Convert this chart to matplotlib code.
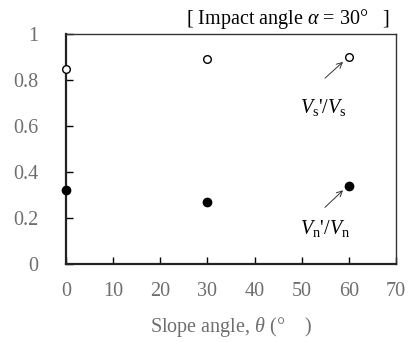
import matplotlib.pyplot as plt

plt.rcParams['font.family'] = 'Liberation Serif'
plt.rcParams['mathtext.fontset'] = 'custom'
plt.rcParams['mathtext.rm'] = 'Liberation Serif'
plt.rcParams['mathtext.it'] = 'Liberation Serif:italic'

slope = [0, 30, 60]
vs_ratio = [0.85, 0.89, 0.90]   # Vs'/Vs (open)
vn_ratio = [0.32, 0.27, 0.34]   # Vn'/Vn (filled)
xticks = [0, 10, 20, 30, 40, 50, 60, 70]
yticks = [0, 0.2, 0.4, 0.6, 0.8, 1]
ytick_labels = ['0', '0.2', '0.4', '0.6', '0.8', '1']

gray = '#6e6e6e'
fs = 14.5

fig = plt.figure(figsize=(4.15, 3.42), dpi=100)
ax = fig.add_axes([66/415, 1 - 264/342, 330/415, 230/342])

ax.plot(slope, vs_ratio, 'o', mfc='white', mec='black', ms=5.5, mew=1, clip_on=False, zorder=5)
ax.plot(slope, vn_ratio, 'o', mfc='black', mec='black', ms=6, clip_on=False, zorder=5)

ax.set_xlim(0, 70)
ax.set_ylim(0, 1)
ax.set_xticks(xticks)
ax.set_yticks(yticks)
ax.set_yticklabels(ytick_labels)
ax.tick_params(direction='in', length=5, width=1, labelsize=fs, colors='black', labelcolor=gray)
ax.tick_params(axis='y', pad=20)
ax.tick_params(axis='x', pad=13)
for s in ['left', 'bottom']:
    ax.spines[s].set_linewidth(1.6)
    ax.spines[s].set_color('#222222')
for s in ['top', 'right']:
    ax.spines[s].set_linewidth(1.0)
    ax.spines[s].set_color('#333333')

ax.set_xlabel(r'Slope angle, $\theta$ (°    )', fontsize=fs, color=gray, labelpad=10)

fig.text(390/415, 1 - 19/342, r'[ Impact angle $\alpha$ = 30°   ]', fontsize=fs,
         ha='right', va='center')

ax.annotate(r"$V_{\rm s}$'/$V_{\rm s}$", xy=(59.2, 0.887), xytext=(54.5, 0.68),
            fontsize=fs, ha='center', va='center')
ax.annotate('', xy=(59.2, 0.887), xytext=(54.5, 0.80),
            arrowprops=dict(arrowstyle='->', lw=0.7, color='#333333'))
ax.annotate(r"$V_{\rm n}$'/$V_{\rm n}$", xy=(59.2, 0.329), xytext=(55, 0.155),
            fontsize=fs, ha='center', va='center')
ax.annotate('', xy=(59.2, 0.329), xytext=(54.5, 0.238),
            arrowprops=dict(arrowstyle='->', lw=0.7, color='#333333'))

fig.savefig('out.png', dpi=100)
